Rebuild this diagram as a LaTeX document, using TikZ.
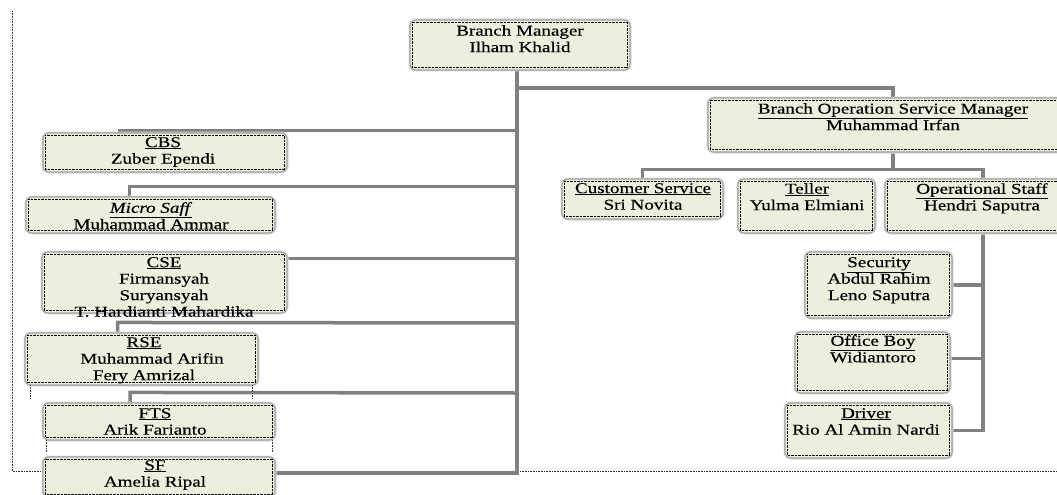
\documentclass[tikz,border=0pt]{standalone}
\usepackage{fontspec}
\setmainfont{Liberation Serif}[FakeStretch=1.27,FakeBold=0.4]
\definecolor{boxfill}{RGB}{234,240,221}
\definecolor{boxrim}{RGB}{160,160,160}
\definecolor{conngray}{RGB}{128,128,128}
\pgfdeclarelayer{bg}
\pgfsetlayers{bg,main}
\tikzset{
  box/.style={draw=boxrim, line width=1.1pt, fill=boxfill, rounded corners=6pt, inner sep=0pt,
    preaction={draw=gray!30, line width=3pt}},
  innerdot/.style={draw=black, line width=0.6pt, dash pattern=on 0.6pt off 0.8pt},
  conn/.style={draw=conngray, line width=3.5pt},
  trunkline/.style={draw=conngray, line width=4.5pt},
  txt/.style={inner sep=0pt, align=center, anchor=north, text=black,
    font=\fontsize{15}{16.5}\selectfont},
  frame/.style={draw=black!80, line width=0.8pt, dash pattern=on 0.8pt off 0.8pt},
}
\newcommand\orgbox[5]{%
  \node[box, minimum width={(#4-#2)*1pt}, minimum height={(#5-#3)*1pt}] (#1) at ({(#2+#4)/2},{(#3+#5)/2}) {};
  \draw[innerdot] ([shift={(3pt,-3pt)}]#1.north west) rectangle ([shift={(-3pt,3pt)}]#1.south east);
}
\begin{document}
\begin{tikzpicture}[x=1pt,y=-1pt]
\useasboundingbox (0,0) rectangle (1057,495);
\clip (0,0) rectangle (1057,495);
% boxes
\orgbox{bm}{410}{20}{630}{70}
\orgbox{bosm}{708}{98}{1078}{152}
\orgbox{cs}{562}{179}{723}{219}
\orgbox{teller}{738}{179}{875}{233}
\orgbox{ops}{885}{179}{1081}{233}
\orgbox{sec}{805}{252}{952}{318}
\orgbox{ob}{795}{332}{950}{393}
\orgbox{drv}{785}{403}{952}{458}
\orgbox{cbs}{43}{133}{287}{172}
\orgbox{micro}{26}{197}{275}{233}
\orgbox{cse}{42}{252}{287}{313}
\orgbox{rse}{25}{333}{258}{385}
\orgbox{fts}{43}{403}{275}{440}
\orgbox{sf}{43}{457}{275}{497}
\coordinate (tr) at (517,0);
\coordinate (tb) at (517,88);
\coordinate (f1) at (12,11);
\coordinate (f2) at (12,471);
\coordinate (f3) at (1057,471);
\begin{pgfonlayer}{bg}
% dotted page frame
\draw[frame] (f1) -- (f2) -- (f3);
% connectors
\draw[trunkline] ([xshift=-3pt]bm.south) |- ([yshift=4pt]sf.east);
\draw[conn] (tb) -| (bosm.north);
\draw[conn] (bosm.south) -- ++(0,17) coordinate (h2);
\draw[conn] (cs.north) |- (h2) -| (ops.north);
\draw[conn] (ops.south) |- (drv.east);
\draw[conn] (sec.east) -- (sec.east -| ops.south);
\draw[conn] ([yshift=4pt]ob.east) -- ([yshift=4pt]ob.east -| ops.south);
\draw[conn] ([xshift=-47pt,yshift=2pt]cbs.north) -- ([yshift=2pt]cbs.north -| tr);
\draw[conn] ([xshift=-21pt]micro.north) -- ++(0,-10) -| (tr |- 0,187);
\draw[conn] ([yshift=-7pt]cse.north east) -- ([yshift=-7pt]cse.north east -| tr);
\draw[conn] ([xshift=-24pt]rse.north) -- ++(0,-10) -- (tr |- 0,323);
\draw[conn] ([xshift=-29pt]fts.north) -- ++(0,-10) -- (tr |- 0,393);
\end{pgfonlayer}
% small dotted frame remnants
\coordinate (r1) at (30,385);
\coordinate (r2) at (252,385);
\coordinate (r3) at (46,440);
\coordinate (r4) at (272,440);
\draw[frame] (r1) -- ++(0,14);
\draw[frame] (r2) -- ++(0,14);
\draw[frame] (r3) -- ++(0,12);
\draw[frame] (r4) -- ++(0,12);
% texts
\node[txt] (bm-t) at (520,25) {Branch Manager\\Ilham Khalid};
\node[txt] (bosm-t) at (893,103) {\underline{Branch Operation Service Manager}\\Muhammad Irfan};
\node[txt] (cs-t) at (643,183) {\underline{Customer Service}\\Sri Novita};
\node[txt] (teller-t) at (807,183) {\underline{Teller}\\Yulma Elmiani};
\node[txt] (ops-t) at (982,183) {\underline{Operational Staff}\\Hendri Saputra};
\node[txt] (sec-t) at (879,257) {\underline{Security}\\Abdul Rahim\\Leno Saputra};
\node[txt] (ob-t) at (873,335) {\underline{Office Boy}\\Widiantoro};
\node[txt] (drv-t) at (866,408) {\underline{Driver}\\Rio Al Amin Nardi};
\node[txt] (cbs-t) at (163,137) {\underline{CBS}\\Zuber Ependi};
\node[txt] (micro-t) at (151,202) {\underline{\textit{Micro Saff}}\\Muhammad Ammar};
\node[txt] (cse-t) at (164,257) {\underline{CSE}\\Firmansyah\\Suryansyah\\T. Hardianti Mahardika};
\node[txt] (rse-t) at (144,337) {\underline{RSE}\\\hspace*{16pt}Muhammad Arifin\\Fery Amrizal};
\node[txt] (fts-t) at (155,408) {\underline{FTS}\\Arik Farianto};
\node[txt] (sf-t) at (155,460) {\underline{SF}\\Amelia Ripal};
\end{tikzpicture}
\end{document}
